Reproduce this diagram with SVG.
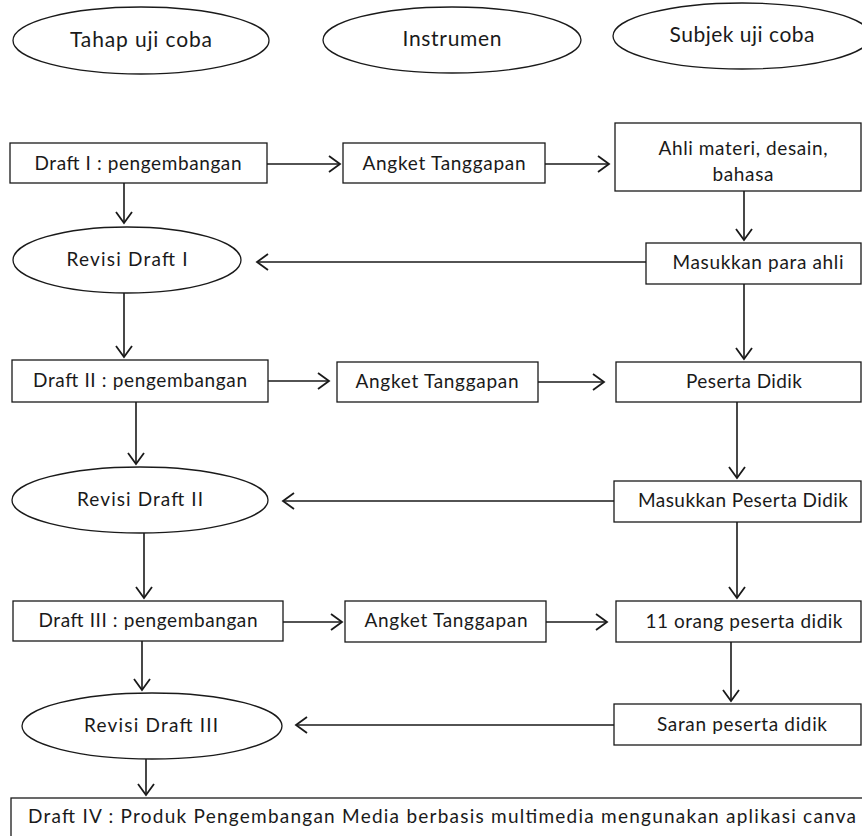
<svg xmlns="http://www.w3.org/2000/svg" width="862" height="836" viewBox="0 0 862 836">
<style>
.s{fill:#fff;stroke:#1a1a1a;stroke-width:1.3}
.t{font-family:Lato,"Open Sans",sans-serif;font-size:19px;fill:#1a1a1a;text-anchor:middle}
.h{font-size:21px}
.c line{stroke:#1a1a1a;stroke-width:1.6;marker-end:url(#a)}
</style>
<defs>
<marker id="a" markerUnits="userSpaceOnUse" markerWidth="14" markerHeight="20" refX="12" refY="9" orient="auto" viewBox="0 0 14 18">
<path d="M1,1 L12,9 L1,17" fill="none" stroke="#1a1a1a" stroke-width="1.8"/>
</marker>
</defs>
<rect width="862" height="836" fill="#fff"/>
<g id="h1"><ellipse class="s" cx="141" cy="40.5" rx="128" ry="33.5"/><text class="t h" x="141" y="47" textLength="142">Tahap uji coba</text></g>
<g id="h2"><ellipse class="s" cx="452" cy="40" rx="129" ry="33"/><text class="t h" x="452" y="46" textLength="99">Instrumen</text></g>
<g id="h3"><ellipse class="s" cx="742" cy="36" rx="129" ry="33"/><text class="t h" x="742" y="42" textLength="145">Subjek uji coba</text></g>

<g id="d1"><rect class="s" x="10" y="143" width="257" height="40"/><text class="t" x="138" y="170" textLength="207">Draft I : pengembangan</text></g>
<g id="a1"><rect class="s" x="343" y="143" width="202" height="40"/><text class="t" x="444" y="170" textLength="163">Angket Tanggapan</text></g>
<g id="s1"><rect class="s" x="615" y="123" width="246" height="68"/><text class="t" x="743" y="155" textLength="169">Ahli materi, desain,</text><text class="t" x="743" y="181" textLength="61">bahasa</text></g>
<g id="r1"><ellipse class="s" cx="127" cy="260" rx="114" ry="33"/><text class="t" x="127" y="266" textLength="121">Revisi Draft I</text></g>
<g id="m1"><rect class="s" x="646" y="243" width="215" height="41"/><text class="t" x="758" y="269" textLength="171">Masukkan para ahli</text></g>

<g id="d2"><rect class="s" x="12" y="360" width="256" height="42"/><text class="t" x="140" y="387" textLength="214">Draft II : pengembangan</text></g>
<g id="a2"><rect class="s" x="337" y="362" width="201" height="40"/><text class="t" x="437" y="388" textLength="163">Angket Tanggapan</text></g>
<g id="s2"><rect class="s" x="616" y="362" width="245" height="40"/><text class="t" x="744" y="388" textLength="116">Peserta Didik</text></g>
<g id="r2"><ellipse class="s" cx="140" cy="500" rx="128" ry="33"/><text class="t" x="140" y="506" textLength="126">Revisi Draft II</text></g>
<g id="m2"><rect class="s" x="614" y="481" width="247" height="41"/><text class="t" x="743" y="507" textLength="210">Masukkan Peserta Didik</text></g>

<g id="d3"><rect class="s" x="13" y="601" width="270" height="40"/><text class="t" x="148" y="627" textLength="219">Draft III : pengembangan</text></g>
<g id="a3"><rect class="s" x="345" y="601" width="201" height="41"/><text class="t" x="446" y="627" textLength="163">Angket Tanggapan</text></g>
<g id="s3"><rect class="s" x="616" y="601" width="245" height="41"/><text class="t" x="744" y="628" textLength="197">11 orang peserta didik</text></g>
<g id="r3"><ellipse class="s" cx="152" cy="726" rx="130" ry="33"/><text class="t" x="151" y="732" textLength="134">Revisi Draft III</text></g>
<g id="m3"><rect class="s" x="614" y="704" width="247" height="41"/><text class="t" x="742" y="731" textLength="170">Saran peserta didik</text></g>

<g id="d4"><rect class="s" x="11" y="798" width="870" height="60"/><text class="t" x="442" y="823" textLength="828">Draft IV : Produk Pengembangan Media berbasis multimedia mengunakan aplikasi canva</text></g>

<g id="connectors" class="c">
<line x1="267" y1="164" x2="340" y2="164"/>
<line x1="545" y1="164" x2="609" y2="164"/>
<line x1="124" y1="183" x2="124" y2="223"/>
<line x1="744" y1="191" x2="744" y2="240"/>
<line x1="646" y1="262" x2="257" y2="262"/>
<line x1="124" y1="293" x2="124" y2="357"/>
<line x1="744" y1="284" x2="744" y2="359"/>
<line x1="268" y1="381" x2="329" y2="381"/>
<line x1="538" y1="382" x2="604" y2="382"/>
<line x1="136" y1="402" x2="136" y2="464"/>
<line x1="737" y1="402" x2="737" y2="478"/>
<line x1="614" y1="501" x2="283" y2="501"/>
<line x1="144" y1="533" x2="144" y2="598"/>
<line x1="737" y1="522" x2="737" y2="598"/>
<line x1="283" y1="622" x2="342" y2="622"/>
<line x1="546" y1="622" x2="607" y2="622"/>
<line x1="142" y1="641" x2="142" y2="690"/>
<line x1="731" y1="642" x2="731" y2="701"/>
<line x1="614" y1="725" x2="296" y2="725"/>
<line x1="146" y1="759" x2="146" y2="795"/>
</g>
</svg>
